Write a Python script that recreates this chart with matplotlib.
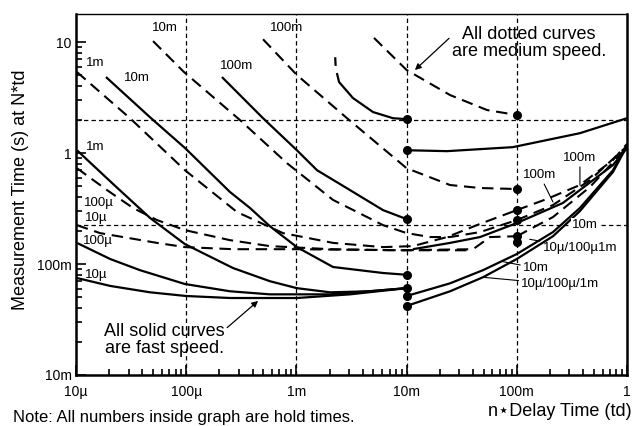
"""
Tempo de medição em função do tempo de atraso (n*td) para vários tempos de hold.
Curvas cheias = velocidade rápida, curvas tracejadas = velocidade média.
"""

import matplotlib
matplotlib.use('Agg')
import matplotlib.pyplot as plt
from matplotlib.ticker import FixedLocator, LogLocator, NullFormatter

plt.rcParams['font.family'] = ['Liberation Sans', 'DejaVu Sans']

# --- curvas rápidas (linha cheia) ---
fast_10u_x = [1.02e-5, 2.04e-5, 4.7e-5, 1e-4, 2.5e-4, 1.01e-3, 3.06e-3, 1e-2]
fast_10u_y = [0.0748, 0.0635, 0.0556, 0.0515, 0.0494, 0.0494, 0.0533, 0.0606]

fast_100u_x = [1.02e-5, 2.04e-5, 3.81e-5, 9.75e-5, 2.5e-4, 5.75e-4, 2.02e-3, 1e-2]
fast_100u_y = [0.155, 0.111, 0.088, 0.066, 0.0568, 0.0533, 0.0533, 0.0606]

fast_1m_x = [1.02e-5, 2.17e-5, 4.7e-5, 9.75e-5, 2.66e-4, 5.75e-4, 1.01e-3, 2.02e-3, 4.66e-3, 1e-2]
fast_1m_y = [1.06, 0.526, 0.260, 0.151, 0.092, 0.070, 0.0606, 0.0556, 0.0568, 0.0606]

fast_10m_x = [1.87e-5, 4.8e-5, 9.75e-5, 2.5e-4, 3.79e-4, 5.75e-4, 1.01e-3, 2.15e-3, 6.11e-3, 1e-2]
fast_10m_y = [4.84, 2.06, 1.11, 0.445, 0.32, 0.219, 0.142, 0.094, 0.083, 0.080]

fast_100m_x = [2.11e-4, 4.98e-4, 1.01e-3, 1.54e-3, 3.06e-3, 6.11e-3, 1e-2]
fast_100m_y = [4.84, 2.06, 1.06, 0.70, 0.464, 0.306, 0.254]

fast_top_x = [2.33e-3, 2.44e-3, 3.26e-3, 4.96e-3, 7.53e-3, 1e-2]
fast_top_y = [5.26, 4.36, 3.13, 2.34, 2.06, 2.02]

marca_x = [2.25e-3, 2.27e-3]
marca_y = [7.3, 6.1]

# subidas rápidas depois de 10m
sobe_10m_x = [1e-2, 2.48e-2, 4.93e-2, 0.1, 0.213, 0.374, 0.746, 1.0]
sobe_10m_y = [0.0515, 0.067, 0.088, 0.123, 0.194, 0.32, 0.70, 1.18]

sobe_baixa_x = [1e-2, 2.48e-2, 4.93e-2, 0.1, 0.213, 0.374, 0.746, 1.0]
sobe_baixa_y = [0.0419, 0.0568, 0.076, 0.111, 0.178, 0.30, 0.675, 1.156]

sobe_100m_x = [1e-2, 2.33e-2, 9.2e-2, 0.374, 1.0]
sobe_100m_y = [1.06, 1.04, 1.13, 1.51, 2.06]

sobe_a_x = [1.14e-2, 2.48e-2, 4.64e-2, 0.1, 0.262, 0.746, 1.0]
sobe_a_y = [0.136, 0.155, 0.175, 0.234, 0.355, 0.78, 1.11]

# --- curvas médias (tracejadas) ---
med_10u_x = [1.02e-5, 1.65e-5, 5.43e-5, 9.75e-5, 2.66e-4, 1.01e-3, 8.71e-3, 4.01e-2]
med_10u_y = [0.224, 0.190, 0.155, 0.142, 0.136, 0.136, 0.133, 0.133]

med_100u_x = [1.02e-5, 1.91e-5, 3.29e-5, 5.43e-5, 9.75e-5, 2.5e-4, 5.75e-4, 2.02e-3, 8.71e-3, 4.01e-2, 5.71e-2, 0.1]
med_100u_y = [0.73, 0.464, 0.320, 0.249, 0.202, 0.164, 0.145, 0.136, 0.133, 0.136, 0.175, 0.178]

med_1m_x = [1.02e-5, 3.09e-5, 9.75e-5, 2.89e-4, 7.55e-4, 2.15e-3, 6.11e-3, 1.14e-2, 2.33e-2, 4.64e-2, 0.1]
med_1m_y = [5.37, 2.06, 0.70, 0.294, 0.190, 0.155, 0.142, 0.145, 0.175, 0.230, 0.306]

med_10m_x = [5.0e-5, 9.55e-5, 3.08e-4, 8.22e-4, 2.15e-3, 4.38e-3, 6.11e-3, 1e-2, 1.63e-2, 2.48e-2, 4.64e-2, 0.1]
med_10m_y = [10.2, 5.37, 1.98, 0.81, 0.378, 0.265, 0.224, 0.190, 0.175, 0.175, 0.194, 0.249]

med_100m_x = [4.98e-4, 1.01e-3, 2.88e-3, 1e-2, 2.48e-2, 4.64e-2, 0.1]
med_100m_y = [10.6, 5.05, 2.06, 0.73, 0.515, 0.484, 0.474]

med_top_x = [5.06e-3, 1e-2, 2.48e-2, 5.37e-2, 0.1]
med_top_y = [10.9, 5.6, 3.33, 2.44, 2.2]

# subidas médias depois de 100m
med_sobe1_x = [0.1, 0.188, 0.374, 0.746, 1.0]
med_sobe1_y = [0.306, 0.386, 0.515, 0.865, 1.21]

med_sobe2_x = [0.1, 0.213, 0.461, 1.0]
med_sobe2_y = [0.249, 0.340, 0.57, 1.156]

med_sobe3_x = [0.1, 0.213, 0.461, 1.0]
med_sobe3_y = [0.178, 0.265, 0.494, 1.13]

# pontos (descontinuidades) em 10m e 100m
pontos_10m = [2.02, 1.06, 0.254, 0.080, 0.0606, 0.0515, 0.0419]
pontos_100m = [2.2, 0.474, 0.306, 0.249, 0.178, 0.157]

# grade
grade_x = [1e-4, 1e-3, 1e-2, 1e-1]
grade_y = [2.0, 0.224]

ticks_x = [1e-5, 1e-4, 1e-3, 1e-2, 1e-1, 1]
rotulos_x = ['10µ', '100µ', '1m', '10m', '100m', '1']
ticks_y = [0.01, 0.1, 1, 10]
rotulos_y = ['10m', '100m', '1', '10']

# rótulos de hold time dentro do gráfico: (texto, x, y)
rotulos_hold = [
    ('10m', 6.4e-5, 13.4),
    ('100m', 8.2e-4, 13.4),
    ('1m', 1.49e-5, 6.47),
    ('10m', 3.58e-5, 4.74),
    ('100m', 2.89e-4, 6.07),
    ('1m', 1.49e-5, 1.13),
    ('100µ', 1.62e-5, 0.355),
    ('10µ', 1.52e-5, 0.26),
    ('100µ', 1.58e-5, 0.162),
    ('10µ', 1.52e-5, 0.080),
]

# rótulos com linha de chamada: (texto, x_texto, y_texto, x_alvo, y_alvo)
rotulos_chamada = [
    ('100m', 0.374, 0.90, 0.374, 0.515),
    ('100m', 0.162, 0.63, 0.213, 0.362),
    ('10µ/100µ1m', 0.171, 0.139, 0.131, 0.167),
    ('10m', 0.114, 0.092, 0.075, 0.105),
    ('10µ/100µ/1m', 0.11, 0.0655, 0.049, 0.076),
]

ESTILO_GRADE = dict(color='black', lw=0.9, ls=(0, (3.5, 2.5)), zorder=1)
ESTILO_CHEIO = dict(color='black', lw=1.6, solid_capstyle='butt', zorder=3)
ESTILO_TRAC = dict(color='black', lw=1.5, ls=(0, (5.5, 3.2)), zorder=3)


def desenhar_curvas(ax):
    cheias = [
        (fast_10u_x, fast_10u_y), (fast_100u_x, fast_100u_y), (fast_1m_x, fast_1m_y),
        (fast_10m_x, fast_10m_y), (fast_100m_x, fast_100m_y), (fast_top_x, fast_top_y),
        (sobe_10m_x, sobe_10m_y), (sobe_baixa_x, sobe_baixa_y),
        (sobe_100m_x, sobe_100m_y), (sobe_a_x, sobe_a_y), (marca_x, marca_y),
    ]
    for x, y in cheias:
        ax.plot(x, y, **ESTILO_CHEIO)

    tracejadas = [
        (med_10u_x, med_10u_y), (med_100u_x, med_100u_y), (med_1m_x, med_1m_y),
        (med_10m_x, med_10m_y), (med_100m_x, med_100m_y), (med_top_x, med_top_y),
        (med_sobe1_x, med_sobe1_y), (med_sobe2_x, med_sobe2_y), (med_sobe3_x, med_sobe3_y),
    ]
    for x, y in tracejadas:
        ax.plot(x, y, **ESTILO_TRAC)

    ax.plot([1e-2] * len(pontos_10m), pontos_10m, 'o', color='black', ms=5.5, zorder=5)
    ax.plot([1e-1] * len(pontos_100m), pontos_100m, 'o', color='black', ms=5.5, zorder=5)


def desenhar_textos(ax, fig):
    for texto, x, y in rotulos_hold:
        ax.text(x, y, texto, fontsize=9.5, ha='center', va='center', zorder=6)

    for texto, xt, yt, xa, ya in rotulos_chamada:
        ax.annotate(texto, xy=(xa, ya), xytext=(xt, yt), fontsize=9.5,
                    ha='left' if '/' in texto or texto == '10m' else 'center', va='center',
                    arrowprops=dict(arrowstyle='-', lw=0.8, color='black',
                                    shrinkA=0, shrinkB=0), zorder=6)

    ax.text(0.416, 0.224, '10m', fontsize=9.5, ha='center', va='center', zorder=6,
            bbox=dict(facecolor='white', edgecolor='none', pad=0.5))

    ax.annotate('All dotted curves\nare medium speed.', xy=(0.0119, 5.6), xytext=(0.129, 9.8),
                fontsize=13, ha='center', va='center', linespacing=1.0,
                arrowprops=dict(arrowstyle='-|>', lw=0.9, color='black', mutation_scale=9,
                                shrinkA=0, shrinkB=0, relpos=(0.02, 0.8)))
    ax.annotate('All solid curves\nare fast speed.', xy=(4.49e-4, 0.0465), xytext=(6.3e-5, 0.0207),
                fontsize=13, ha='center', va='center', linespacing=1.0,
                arrowprops=dict(arrowstyle='-|>', lw=0.9, color='black', mutation_scale=9,
                                shrinkA=0, shrinkB=0, relpos=(0.97, 0.7)))

    fig.text(21 / 638, 0.554, 'Measurement Time (s) at N*td', rotation=90,
             ha='center', va='center', fontsize=13)
    fig.text(560 / 638, (426 - 411) / 426, 'n\u22c6Delay Time (td)',
             ha='center', va='center', fontsize=13)
    fig.text(13 / 638, 4 / 426, 'Note: All numbers inside graph are hold times.',
             ha='left', va='baseline', fontsize=12)


def main():
    fig = plt.figure(figsize=(6.38, 4.26), dpi=100)
    ax = fig.add_axes([76 / 638, 51 / 426, 551 / 638, 361 / 426])
    ax.set_xscale('log')
    ax.set_yscale('log')
    ax.set_xlim(1e-5, 1)
    ax.set_ylim(0.01, 17.9)

    for gx in grade_x:
        ax.axvline(gx, **ESTILO_GRADE)
    for gy in grade_y:
        ax.axhline(gy, **ESTILO_GRADE)

    desenhar_curvas(ax)

    ax.xaxis.set_major_locator(FixedLocator(ticks_x))
    ax.set_xticklabels(rotulos_x)
    ax.yaxis.set_major_locator(FixedLocator(ticks_y))
    ax.set_yticklabels(rotulos_y)
    ax.xaxis.set_minor_locator(LogLocator(base=10, subs=range(2, 10), numticks=20))
    ax.yaxis.set_minor_locator(LogLocator(base=10, subs=range(2, 10), numticks=20))
    ax.xaxis.set_minor_formatter(NullFormatter())
    ax.yaxis.set_minor_formatter(NullFormatter())
    ax.tick_params(which='both', direction='in', top=False, right=False, width=1.2)
    ax.tick_params(which='major', length=7, labelsize=10)
    ax.tick_params(which='minor', length=4.5)
    ax.tick_params(axis='x', pad=7)
    ax.tick_params(axis='y', pad=3)

    for lado in ['left', 'bottom', 'right']:
        ax.spines[lado].set_linewidth(1.8)
    ax.spines['top'].set_linewidth(1.0)

    desenhar_textos(ax, fig)

    fig.savefig('out.png', dpi=100)
    plt.close(fig)


if __name__ == "__main__":
    main()
